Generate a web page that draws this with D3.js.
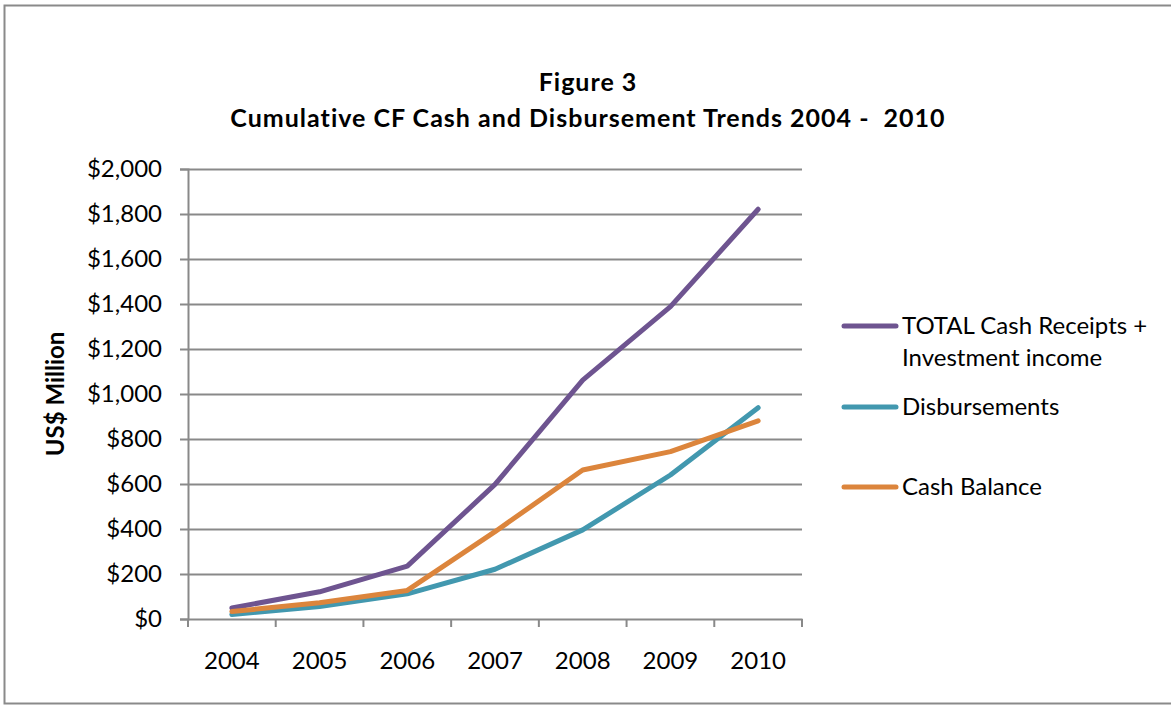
<!DOCTYPE html>
<html>
<head>
<meta charset="utf-8">
<script src="https://cdn.jsdelivr.net/npm/d3@7"></script>
<style>
  html, body { margin: 0; padding: 0; background: #fff; }
  svg { display: block; }
  text { font-family: Lato, "Open Sans", sans-serif; fill: #000; white-space: pre; }
</style>
</head>
<body>
<svg id="chart" width="1171" height="706"></svg>
<script>
const categories = ["2004", "2005", "2006", "2007", "2008", "2009", "2010"];
const totalReceipts = [49, 121, 235, 598, 1062, 1388, 1821];
const disbursements = [20, 55, 112, 221, 396, 640, 939];
const cashBalance = [33, 72, 127, 388, 662, 744, 881];
const yTicks = [0, 200, 400, 600, 800, 1000, 1200, 1400, 1600, 1800, 2000];
const seriesNames = [["TOTAL Cash Receipts +", "Investment income"], ["Disbursements"], ["Cash Balance"]];
const seriesColors = ["#6E5490", "#4298AF", "#DC853C"];
const titleLines = ["Figure 3", "Cumulative CF Cash and Disbursement Trends 2004 -  2010"];
const yAxisTitle = "US$ Million";

const series = [totalReceipts, disbursements, cashBalance];

const svg = d3.select("#chart");

// outer border
svg.append("rect").attr("x", 4.5).attr("y", 5.5).attr("width", 1170).attr("height", 698)
  .attr("fill", "#fff").attr("stroke", "#8a8a8a").attr("stroke-width", 2);

const plot = { left: 188, right: 802, top: 169, bottom: 619 };
const bodySize = 24;

const x = d3.scaleBand().domain(categories).range([plot.left, plot.right]).padding(0);
const y = d3.scaleLinear().domain([0, 2000]).range([plot.bottom, plot.top]);

// gridlines
svg.append("g").selectAll("line").data(yTicks.filter(d => d > 0)).join("line")
  .attr("x1", plot.left).attr("x2", plot.right)
  .attr("y1", d => Math.round(y(d)) + 0.5).attr("y2", d => Math.round(y(d)) + 0.5)
  .attr("stroke", "#898989").attr("stroke-width", 2);

// y axis
const yAxis = d3.axisLeft(y).tickValues(yTicks).tickSize(8).tickPadding(18)
  .tickFormat(d => "$" + d3.format(",")(d));
const gy = svg.append("g").attr("transform", `translate(${plot.left},0)`).call(yAxis);
gy.select(".domain").attr("stroke", "#898989").attr("stroke-width", 2);
gy.selectAll(".tick line").attr("stroke", "#898989").attr("stroke-width", 2);
gy.selectAll(".tick text").attr("font-size", bodySize).attr("font-family", "Lato, sans-serif").attr("fill", "#000");

// x axis
const xAxis = d3.axisBottom(x).tickSize(0).tickPadding(0);
const gx = svg.append("g").attr("transform", `translate(0,${plot.bottom})`).call(xAxis);
gx.select(".domain").attr("stroke", "#898989").attr("stroke-width", 2);
gx.selectAll(".tick text").attr("font-size", bodySize).attr("font-family", "Lato, sans-serif")
  .attr("fill", "#000").attr("dy", null).attr("y", 50);
// category boundary ticks
const bounds = categories.map(c => x(c)).concat([x(categories[categories.length - 1]) + x.bandwidth()]);
gx.selectAll(".btick").data(bounds).join("line").attr("class", "btick")
  .attr("x1", d => d).attr("x2", d => d).attr("y1", 0).attr("y2", 8)
  .attr("stroke", "#898989").attr("stroke-width", 2);

// lines
const line = d3.line().x((d, i) => x(categories[i]) + x.bandwidth() / 2).y(d => y(d));
series.forEach((s, i) => {
  svg.append("path").datum(s).attr("d", line).attr("fill", "none")
    .attr("stroke", seriesColors[i]).attr("stroke-width", 5)
    .attr("stroke-linejoin", "round").attr("stroke-linecap", "round");
});

// legend
const legendY = [326, 407, 487];
series.forEach((s, i) => {
  const g = svg.append("g");
  g.append("line").attr("x1", 844).attr("x2", 896).attr("y1", legendY[i]).attr("y2", legendY[i])
    .attr("stroke", seriesColors[i]).attr("stroke-width", 5).attr("stroke-linecap", "round");
  seriesNames[i].forEach((t, j) => {
    g.append("text").attr("x", 902).attr("y", legendY[i] + 8 + j * 32)
      .attr("font-size", bodySize).text(t);
  });
});

// title
svg.append("text").attr("x", 588).attr("y", 91).attr("text-anchor", "middle")
  .attr("font-size", 25).attr("letter-spacing", 1).attr("font-weight", "bold").text(titleLines[0]);
svg.append("text").attr("x", 588).attr("y", 127).attr("text-anchor", "middle")
  .attr("font-size", 25).attr("letter-spacing", 1).attr("font-weight", "bold").text(titleLines[1]);

// y axis title
svg.append("text").attr("transform", `translate(64,394) rotate(-90)`).attr("text-anchor", "middle")
  .attr("font-size", 24).attr("font-weight", "bold").text(yAxisTitle);
</script>
</body>
</html>
